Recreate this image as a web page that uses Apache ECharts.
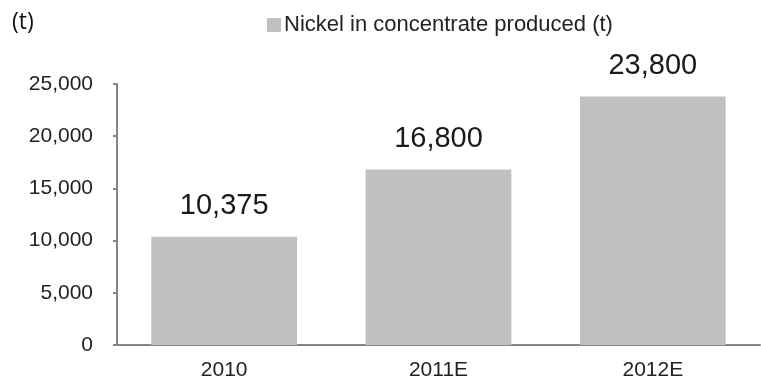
<!DOCTYPE html>
<html>
<head>
<meta charset="utf-8">
<script src="https://cdn.jsdelivr.net/npm/echarts@6/dist/echarts.min.js"></script>
<style>html,body{margin:0;padding:0;background:#fff}#c{width:761px;height:381px}</style>
</head>
<body>
<div id="c"></div>
<script>
var categories = ['2010', '2011E', '2012E'];
var nickelProduced = [10375, 16800, 23800];
var seriesName = 'Nickel in concentrate produced (t)';
var unitLabel = '(t)';

var chart = echarts.init(document.getElementById('c'), null, {renderer: 'canvas'});
chart.setOption({
  animation: false,
  backgroundColor: '#ffffff',
  textStyle: {fontFamily: 'Liberation Sans, Arial, sans-serif'},
  grid: {left: 117, right: 1, top: 84, bottom: 33, containLabel: false},
  title: {
    text: unitLabel, left: 12, top: 11, padding: 0,
    textStyle: {fontSize: 23, fontWeight: 'normal', fontFamily: 'Open Sans, sans-serif', color: '#111'}
  },
  legend: {
    show: true, left: 262, top: 9, itemWidth: 14, itemHeight: 14, itemGap: 6,
    icon: 'rect',
    textStyle: {fontSize: 22, color: '#222', fontFamily: 'Liberation Sans, Arial, sans-serif', padding: [0, 0, 0, -2]},
    data: [seriesName]
  },
  xAxis: {
    type: 'category', data: categories,
    axisLine: {lineStyle: {color: '#858585', width: 2}},
    axisTick: {show: false},
    axisLabel: {fontSize: 21, color: '#222', margin: 15}
  },
  yAxis: {
    type: 'value', min: 0, max: 25000, interval: 5000,
    axisLine: {show: true, lineStyle: {color: '#858585', width: 2}},
    axisTick: {show: true, length: 4, lineStyle: {color: '#858585', width: 2}},
    splitLine: {show: false},
    axisLabel: {
      fontSize: 21, color: '#222', margin: 24,
      formatter: function (v) { return v.toLocaleString('en-US'); }
    }
  },
  series: [{
    name: seriesName, type: 'bar', data: nickelProduced,
    barWidth: '68%',
    itemStyle: {color: '#c0c0c0'},
    label: {
      show: true, position: 'top', distance: 16,
      fontSize: 29, color: '#1a1a1a',
      formatter: function (p) { return p.value.toLocaleString('en-US'); }
    }
  }]
});
</script>
</body>
</html>
